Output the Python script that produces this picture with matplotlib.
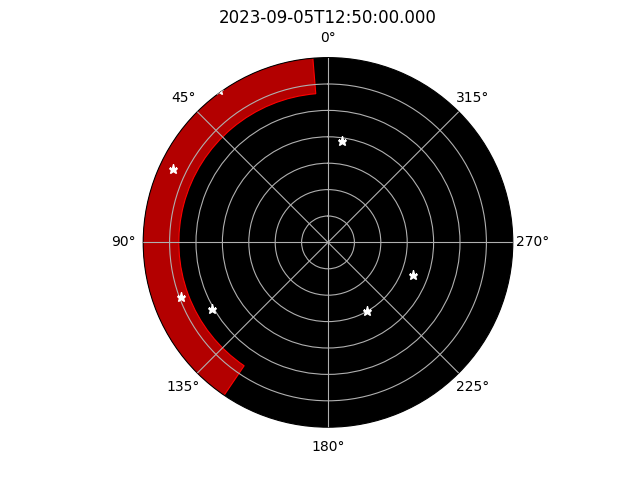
import numpy as np
import matplotlib
matplotlib.use("Agg")
from matplotlib import pyplot as plt

title = "2023-09-05T12:50:00.000"

# star positions: azimuth (deg), radial distance
star_az = [35.6, 64.6, 352.0, 110.6, 119.8, 249.2, 210.0]
star_r = [7.08, 6.48, 3.86, 5.93, 5.07, 3.43, 2.99]

# red sector
sector_start = 4.7
sector_end = 145.8
sector_inner = 5.65
sector_outer = 7.0

r_max = 7.0
r_ticks = [1, 2, 3, 4, 5, 6]

fig = plt.figure(figsize=(6.4, 4.8), dpi=100)
ax = fig.add_subplot(111, projection='polar')
ax.set_theta_zero_location('N')
ax.set_theta_direction(1)
ax.set_facecolor('black')

width = np.radians(sector_end - sector_start)
ax.bar(np.radians(sector_start), sector_outer - sector_inner, width=width,
       bottom=sector_inner, align='edge', color='#b30000', edgecolor='red',
       linewidth=0.8, zorder=1)

ax.plot(np.radians(star_az), star_r, linestyle='none', marker='*',
        color='white', markersize=6.5, zorder=3)

ax.set_ylim(0, r_max)
ax.set_yticks(r_ticks)
ax.set_yticklabels([])
ax.grid(True, color='#b0b0b0')
ax.set_axisbelow(False)
ax.set_title(title)

plt.savefig('out.png')
